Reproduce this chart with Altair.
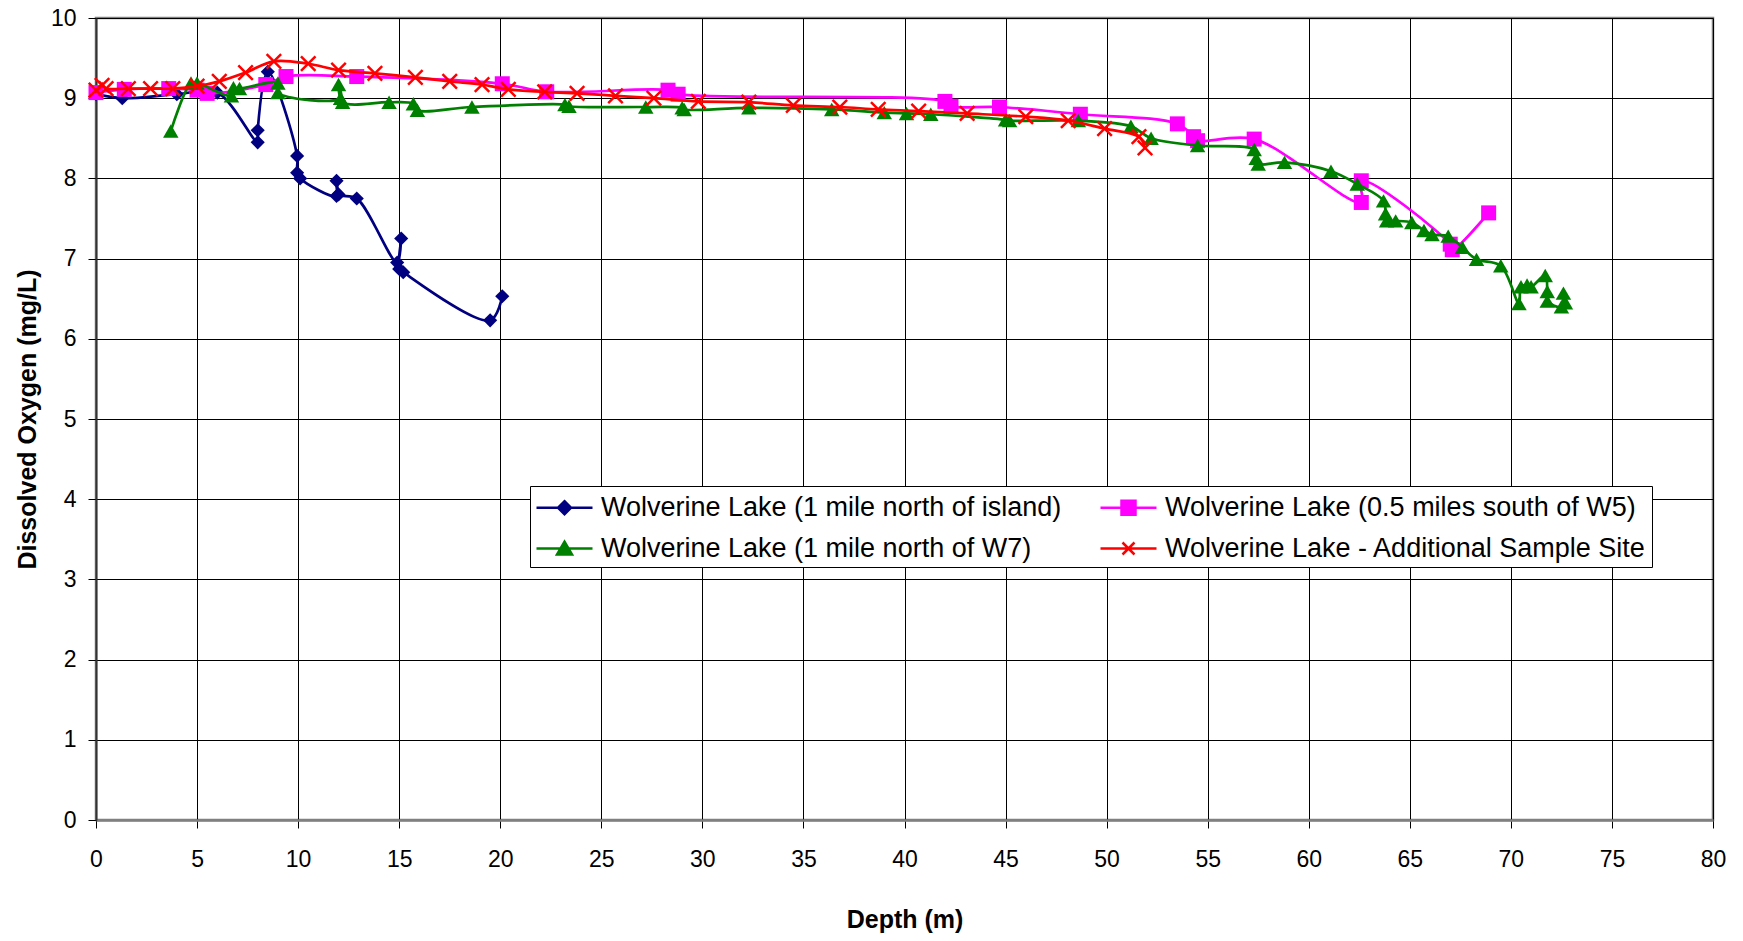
import altair as alt
import pandas as pd

# ---------------- data ----------------
series_names = [
    "Wolverine Lake (1 mile north of island)",
    "Wolverine Lake (0.5 miles south of W5)",
    "Wolverine Lake (1 mile north of W7)",
    "\u00a0Wolverine Lake - Additional Sample Site",
]
series_colors = ["#000080", "#FF00FF", "#008000", "#FF0000"]

blue_depth = [0.0, 1.3, 4.0, 6.0, 8.0, 8.0, 8.5, 9.95, 9.95, 10.1, 11.9, 11.9, 12.0,
              12.9, 14.9, 15.1, 15.0, 15.2, 19.5, 20.1]
blue_do = [9.05, 9.0, 9.05, 9.07, 8.45, 8.6, 9.33, 8.28, 8.07, 8.0, 7.78, 7.97, 7.8,
           7.75, 6.95, 7.25, 6.87, 6.83, 6.23, 6.53]

pink_depth = [0.0, 1.4, 3.6, 5.0, 5.5, 8.4, 9.4, 12.9, 20.1, 22.3, 28.3, 28.8, 42.0,
              42.3, 44.7, 48.7, 53.5, 54.3, 54.5, 57.3, 62.6, 62.6, 67.0, 67.1, 68.9]
pink_do = [9.07, 9.11, 9.12, 9.10, 9.06, 9.17, 9.27, 9.27, 9.18, 9.08, 9.10, 9.05, 8.96,
           8.90, 8.89, 8.80, 8.68, 8.52, 8.47, 8.49, 7.70, 7.97, 7.18, 7.11, 7.57]

green_depth = [3.7, 4.7, 5.0, 6.7, 6.8, 7.1, 9.0, 9.0, 12.1, 12.0, 12.2, 14.5, 15.7,
               15.9, 18.6, 23.2, 23.4, 27.2, 29.0, 29.1, 32.3, 36.4, 39.0, 40.1, 41.3,
               45.0, 45.2, 48.6, 51.2, 52.2, 54.5, 57.3, 57.4, 57.5, 58.8, 61.1, 62.4,
               63.7, 63.8, 63.85, 64.3, 65.1, 65.7, 66.1, 66.9, 67.6, 68.3, 69.5, 70.4,
               70.5, 70.8, 71.0, 71.7, 71.8, 71.8, 72.5, 72.6, 72.7]
green_do = [8.59, 9.19, 9.19, 9.03, 9.13, 9.12, 9.19, 9.07, 9.0, 9.17, 8.95, 8.95, 8.93,
            8.85, 8.89, 8.92, 8.90, 8.89, 8.88, 8.86, 8.88, 8.86, 8.82, 8.81, 8.80,
            8.73, 8.72, 8.72, 8.65, 8.50, 8.41, 8.36, 8.25, 8.18, 8.20, 8.09, 7.93,
            7.72, 7.56, 7.47, 7.47, 7.45, 7.35, 7.30, 7.28, 7.14, 6.99, 6.91, 6.44,
            6.65, 6.67, 6.65, 6.79, 6.59, 6.47, 6.40, 6.57, 6.45]

red_depth = [0.0, 0.3, 0.5, 1.6, 2.7, 3.8, 5.0, 6.1, 7.4, 8.8, 10.5, 12.0, 13.8, 15.8,
             17.5, 19.1, 20.4, 22.2, 23.8, 25.7, 27.6, 29.8, 32.3, 34.5, 36.8, 38.7,
             40.7, 43.1, 46.0, 48.1, 49.9, 51.6, 51.9]
red_do = [9.10, 9.16, 9.12, 9.12, 9.12, 9.12, 9.15, 9.21, 9.32, 9.46, 9.43, 9.35, 9.31,
          9.26, 9.21, 9.17, 9.11, 9.08, 9.06, 9.03, 9.00, 8.96, 8.95, 8.91, 8.89, 8.86,
          8.84, 8.81, 8.77, 8.72, 8.62, 8.52, 8.38]

x_ticks = list(range(0, 81, 5))
y_ticks = list(range(0, 11, 1))

# ---------------- styling ----------------
FONT = "Liberation Sans"
X_SHAPE = "M-1,-1L1,1M1,-1L-1,1"
marker_shapes = ["diamond", "square", "triangle-up", X_SHAPE]
marker_sizes = [200, 225, 240, 210]
legend_paths = [
    "M-1,0L2.7333,0M0.8667,-0.4333L1.3,0L0.8667,0.4333L0.4333,0Z",
    "M-1,0L2.7333,0M0.4,-0.4667L1.3333,-0.4667L1.3333,0.4667L0.4,0.4667Z",
    "M-1,0L2.7333,0M0.8667,-0.45L1.3667,0.4L0.3667,0.4Z",
    "M-1,0L2.7333,0M0.4667,-0.4L1.2667,0.4M1.2667,-0.4L0.4667,0.4",
]
# legend fills column by column: blue, green | pink, red
legend_order = [0, 2, 1, 3]
legend_names = [series_names[i] for i in legend_order]
legend_colors = [series_colors[i] for i in legend_order]
legend_shapes = [legend_paths[i] for i in legend_order]

series_data = [(blue_depth, blue_do), (pink_depth, pink_do),
               (green_depth, green_do), (red_depth, red_do)]

frames = []
for name, (d, v) in zip(series_names, series_data):
    frames.append(pd.DataFrame({"series": name, "depth": d, "do": v,
                                "idx": list(range(len(d)))}))
all_df = pd.concat(frames, ignore_index=True)

x_enc = alt.X("depth:Q",
              scale=alt.Scale(domain=[0, 80], nice=False, zero=False),
              axis=alt.Axis(values=x_ticks, title="Depth (m)", format="d",
                            labelBaseline="alphabetic", labelPadding=38,
                            titleY=107, titleBaseline="alphabetic",
                            domainColor="#808080", domainWidth=2.5))
y_enc = alt.Y("do:Q",
              scale=alt.Scale(domain=[0, 10], nice=False, zero=False),
              axis=alt.Axis(values=y_ticks, title="Dissolved Oxygen (mg/L)", format="d",
                            labelPadding=12, titleX=-61, titleBaseline="alphabetic",
                            domainColor="#333333", domainWidth=2))

layers = []
for i, (name, (d, v)) in enumerate(zip(series_names, series_data)):
    base = alt.Chart(frames[i])
    line = base.mark_line(color=series_colors[i], strokeWidth=2.7,
                          interpolate="catmull-rom").encode(
        x=x_enc, y=y_enc, order=alt.Order("idx:Q"))
    if marker_shapes[i] == X_SHAPE:
        pts = base.mark_point(shape=X_SHAPE, filled=False, color=series_colors[i],
                              strokeWidth=2.5, size=marker_sizes[i], opacity=1)
    else:
        pts = base.mark_point(shape=marker_shapes[i], filled=True, color=series_colors[i],
                              size=marker_sizes[i], opacity=1, strokeWidth=0)
    pts = pts.encode(x=x_enc, y=y_enc)
    layers += [line, pts]

leg = alt.Legend(title=None, orient="none", legendX=434, legendY=468, columns=2,
                 columnPadding=33, rowPadding=11, padding=5, strokeColor="#000000",
                 fillColor="#FFFFFF", labelFontSize=27, labelFont=FONT,
                 labelColor="#000000", labelLimit=1000, symbolSize=900,
                 symbolStrokeWidth=2.5, labelOffset=33, symbolOpacity=1)

legend_layer = alt.Chart(all_df).mark_point(filled=True, size=0, opacity=1,
                                            strokeWidth=2.5).encode(
    x=x_enc, y=y_enc,
    fill=alt.Fill("series:N", scale=alt.Scale(domain=legend_names, range=legend_colors),
                  legend=leg),
    stroke=alt.Stroke("series:N", scale=alt.Scale(domain=legend_names, range=legend_colors),
                      legend=leg),
    shape=alt.Shape("series:N", scale=alt.Scale(domain=legend_names, range=legend_shapes),
                    legend=leg),
)
layers.append(legend_layer)

chart = alt.layer(*layers).properties(
    width=1617, height=802,
    autosize=alt.AutoSizeParams(type="none"),
    padding={"left": 88, "top": 10, "right": 20, "bottom": 113},
    background="#FFFFFF",
).configure_view(
    stroke="#808080", strokeWidth=2.5, fill="#FFFFFF"
).configure_axis(
    grid=True, gridColor="#000000", gridWidth=1, gridOpacity=1,
    tickColor="#000000", tickSize=8, tickWidth=1,
    labelFont=FONT, labelFontSize=23, labelColor="#000000",
    titleFont=FONT, titleFontSize=25, titleFontWeight="bold", titleColor="#000000",
    labelFlush=False, labelOverlap=False,
)

chart.save("out.html", embed_options={"renderer": "svg", "actions": False})
